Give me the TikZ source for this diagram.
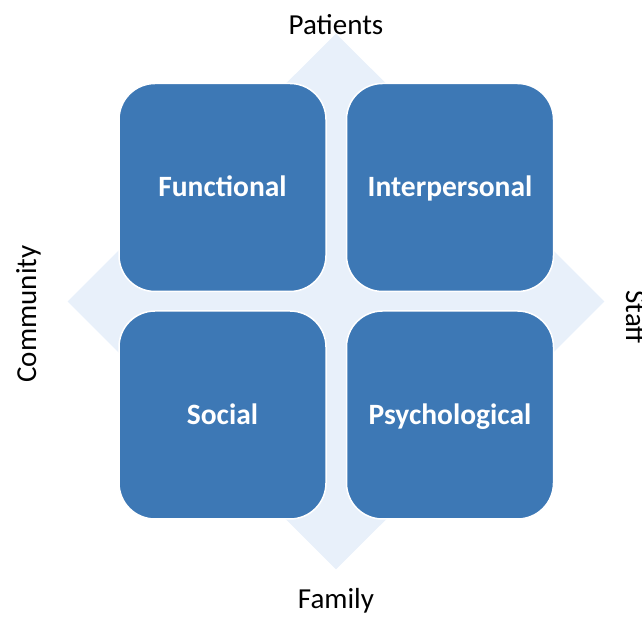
\documentclass[tikz,border=0pt]{standalone}
\usepackage{fontspec}
\setmainfont{Carlito}
\usetikzlibrary{positioning,shapes.geometric}
\definecolor{boxblue}{HTML}{3D78B5}
\definecolor{paleblue}{HTML}{E8F0FA}

\begin{document}
\begin{tikzpicture}[x=1pt,y=1pt,
  area/.style={fill=boxblue, draw=white, line width=1.5pt, rounded corners=36pt,
    minimum width=207pt, minimum height=208pt, text=white,
    text height=19pt, text depth=0pt,
    font=\fontsize{29.5}{35}\selectfont\bfseries},
  side/.style={font=\fontsize{29}{34}\selectfont, inner sep=0pt}]
\useasboundingbox (0,0) rectangle (642,617);
\node (back) [diamond, fill=paleblue, inner sep=0pt, minimum width=537pt, minimum height=536pt] at (336,315.5) {};
\node (func) [area] at (222.5,429.5) {Functional};
\node (inter) [area, right=19pt of func] {Interpersonal};
\node (soc) [area, below=18pt of func] {Social};
\node (psych) [area, right=19pt of soc] {Psychological};
\node (patients) [side, anchor=base] at (336,582) {Patients};
\node (family) [side, anchor=base] at (336,8) {Family};
\node (community) [side, rotate=90, anchor=base] at (36,303) {Community};
\node (staff) [side, rotate=-90, anchor=base] at (626,300) {Staff};
\end{tikzpicture}
\end{document}
